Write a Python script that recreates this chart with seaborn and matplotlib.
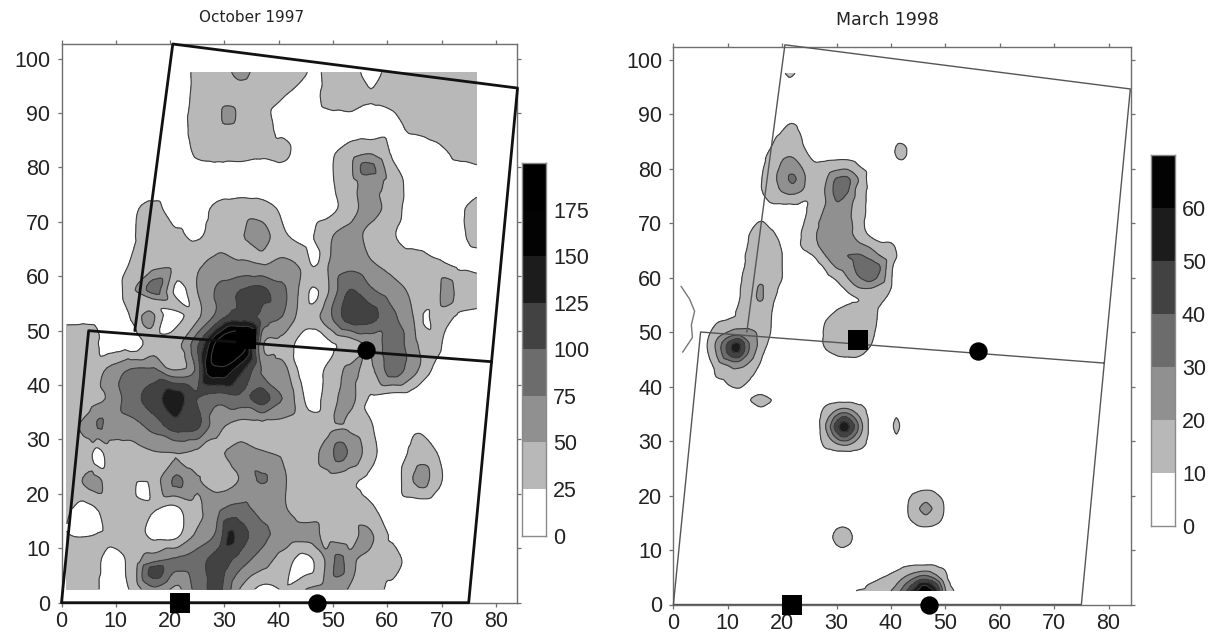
import numpy as np
import matplotlib
matplotlib.use("Agg")
import matplotlib.pyplot as plt
import matplotlib.tri as mtri
from matplotlib.colors import ListedColormap
import seaborn as sns

# ---------- data ----------
left_title = "October 1997"
right_title = "March 1998"
left_levels = [0, 25, 50, 75, 100, 125, 150, 175, 200]
right_levels = [0, 10, 20, 30, 40, 50, 60, 70]
grays = ["#ffffff", "#b8b8b8", "#909090", "#6c6c6c", "#424242", "#1c1c1c", "#030303", "#000000"]

grid_x = [1, 5, 9, 13, 17, 21, 25, 29, 33, 37, 41, 45, 49, 53, 57, 61, 65, 69, 73, 76.5]
grid_y = [97.5, 92.5, 87.5, 82.5, 77.5, 72.5, 67.5, 62.5, 57.5, 52.5, 47.5, 42.5, 37.5, 32.5, 27.5, 22.5, 17.5, 12.5, 7.5, 2.5]
oct_z = [
    [0, 0, 0, 0, 0, 12, 30, 40, 55, 40, 38, 27, 35, 38, 15, 38, 40, 42, 42, 42],
    [0, 0, 0, 0, 0, 10, 32, 42, 40, 30, 24, 10, 32, 38, 27, 30, 40, 42, 42, 42],
    [0, 0, 0, 0, 0, 10, 35, 42, 38, 30, 20, 8, 10, 12, 10, 20, 30, 38, 42, 42],
    [0, 0, 0, 0, 0, 8, 28, 32, 32, 28, 30, 10, 20, 38, 50, 22, 10, 15, 30, 35],
    [0, 0, 0, 0, 0, 5, 8, 8, 8, 8, 8, 5, 20, 40, 60, 38, 15, 10, 10, 12],
    [0, 0, 0, 20, 32, 10, 15, 32, 38, 35, 20, 8, 15, 38, 60, 36, 12, 8, 20, 35],
    [0, 0, 0, 22, 38, 30, 22, 38, 48, 60, 28, 18, 45, 58, 42, 27, 15, 12, 20, 32],
    [0, 0, 0, 28, 38, 42, 45, 58, 52, 48, 55, 38, 48, 65, 52, 40, 36, 28, 20, 18],
    [0, 0, 0, 45, 85, 35, 50, 80, 100, 105, 78, 35, 47, 100, 78, 60, 45, 40, 40, 38],
    [0, 0, 0, 28, 40, 35, 45, 88, 112, 90, 72, 35, 65, 112, 108, 80, 48, 35, 22, 18],
    [34, 36, 12, 12, 35, 40, 95, 190, 195, 55, 40, 12, 18, 35, 55, 90, 55, 30, 12, 8],
    [40, 35, 58, 80, 82, 55, 85, 165, 130, 72, 58, 12, 30, 55, 45, 85, 55, 18, 8, 5],
    [30, 38, 55, 92, 112, 135, 100, 85, 92, 110, 72, 26, 35, 58, 22, 12, 10, 5, 3, 3],
    [45, 58, 62, 65, 85, 112, 105, 55, 42, 42, 42, 35, 40, 45, 27, 10, 22, 12, 2, 2],
    [36, 38, 38, 40, 48, 50, 45, 48, 60, 52, 46, 38, 62, 72, 35, 8, 32, 26, 5, 2],
    [36, 55, 40, 36, 38, 62, 52, 38, 52, 78, 52, 38, 40, 30, 18, 10, 52, 35, 5, 2],
    [30, 20, 38, 38, 28, 22, 45, 70, 80, 65, 52, 36, 36, 34, 28, 12, 10, 8, 2, 2],
    [26, 24, 30, 36, 18, 18, 55, 85, 112, 82, 65, 38, 42, 36, 50, 20, 5, 2, 2, 2],
    [36, 36, 18, 34, 75, 80, 90, 110, 85, 60, 36, 28, 55, 58, 40, 36, 10, 2, 2, 2],
    [36, 36, 15, 30, 70, 45, 85, 105, 48, 18, 26, 50, 58, 48, 36, 18, 2, 2, 2, 2],
]
# small features between the grid nodes
oct_spot_x = [21.5, 20, 46.4, 46.3, 67, 71.2, 56.2, 46.5, 30.7, 20.8, 46, 7, 50.8, 6.2, 51.3, 66.3, 14.7, 6, 21.2, 36.5, 4, 18.7, 31, 46, 56.1, 45.2, 17, 51.3, 11, 1, 5, 35, 27, 31, 35.5, 20.9, 46.5, 20.5, 16, 16.5]
oct_spot_y = [57, 53, 62.6, 57, 52, 57, 79.8, 97.5, 89, 44, 38, 32.7, 33.5, 27.2, 27.6, 23, 21.8, 22.2, 22.2, 21.3, 15.5, 15, 12.3, 12.5, 12, 7.3, 6.2, 7.1, 48, 50.5, 50.5, 49, 43, 50, 55, 37.6, 60, 55, 52.6, 55.2]
oct_spot_v = [15, 15, 18, 18, 22, 65, 85, 15, 60, 30, 15, 78, 53, 15, 85, 62, 15, 58, 80, 72, 8, 8, 130, 58, 58, 15, 110, 85, 10, 33, 35, 170, 160, 170, 118, 140, 40, 38, 60, 38]

mar_x = [6, 8, 10, 12, 14, 16, 18, 20, 22, 24, 26, 28, 30, 32, 34, 36, 38, 40, 42]
mar_y = [90, 88, 86, 84, 82, 80, 78, 76, 74, 72, 70, 68, 66, 64, 62, 60, 58, 56, 54, 52, 50, 48, 46, 44, 42, 40]
mar_z = [
    [0, 0, 0, 0, 0, 0, 0, 0, 0, 0, 0, 0, 0, 0, 0, 0, 0, 0, 0],
    [0, 0, 0, 0, 0, 0, 0, 7, 11, 5, 0, 0, 0, 0, 0, 0, 0, 0, 0],
    [0, 0, 0, 0, 0, 0, 7, 12, 14, 8, 0, 0, 0, 0, 0, 0, 0, 0, 0],
    [0, 0, 0, 0, 0, 3, 10, 14, 16, 10, 4, 0, 0, 0, 0, 0, 0, 6, 13],
    [0, 0, 0, 0, 0, 6, 14, 19, 20, 14, 8, 8, 8, 8, 6, 2, 0, 6, 12],
    [0, 0, 0, 0, 0, 8, 15, 22, 26, 19, 13, 14, 18, 19, 12, 7, 0, 0, 0],
    [0, 0, 0, 0, 0, 9, 16, 24, 32, 21, 13, 19, 31, 32, 20, 7, 0, 0, 0],
    [0, 0, 0, 0, 0, 9, 14, 21, 24, 19, 12, 21, 33, 31, 16, 8, 0, 0, 0],
    [0, 0, 0, 0, 0, 5, 11, 12, 12, 10, 13, 20, 30, 25, 15, 8, 0, 0, 0],
    [0, 0, 0, 0, 0, 3, 3, 5, 7, 9, 14, 22, 27, 23, 14, 8, 0, 0, 0],
    [0, 0, 0, 0, 6, 11, 7, 2, 4, 10, 17, 25, 26, 24, 14, 7, 0, 0, 0],
    [0, 0, 0, 3, 10, 13, 12, 6, 5, 12, 19, 24, 26, 23, 16, 9, 5, 5, 2],
    [0, 0, 0, 5, 11, 14, 14, 9, 4, 13, 18, 24, 26, 26, 22, 18, 12, 11, 6],
    [0, 0, 0, 5, 13, 15, 15, 10, 3, 6, 11, 20, 28, 30, 31, 27, 20, 14, 7],
    [0, 0, 0, 6, 13, 16, 15, 10, 0, 2, 5, 12, 21, 25, 33, 36, 30, 12, 4],
    [0, 0, 0, 8, 14, 18, 14, 10, 0, 0, 2, 7, 12, 20, 29, 35, 27, 11, 3],
    [0, 0, 0, 9, 14, 21, 13, 8, 0, 0, 0, 3, 6, 12, 19, 20, 16, 10, 3],
    [0, 0, 0, 9.5, 14, 21, 12, 6, 0, 0, 0, 0, 3, 8, 10, 13, 12, 7, 2],
    [0, 3, 6, 11, 14, 14, 10.5, 4, 0, 0, 0, 4, 10, 13, 14, 13, 9, 3, 0],
    [3, 9, 11, 13, 15, 15, 10, 3, 0, 0, 3, 10, 14, 16, 16, 14, 8, 2, 0],
    [7, 15, 20, 24, 22, 18, 9.5, 2, 0, 0, 3, 12, 16, 18, 18, 14, 6, 0, 0],
    [9, 22, 40, 50, 29, 17, 7, 0, 0, 0, 0, 13, 17, 18, 18, 12, 4, 0, 0],
    [8, 21, 40, 47, 27, 13, 4, 0, 0, 0, 0, 7, 11, 12, 12, 7, 0, 0, 0],
    [4, 15, 21, 24, 18, 9, 0, 0, 0, 0, 0, 0, 5, 5, 4, 0, 0, 0, 0],
    [0, 11, 14, 14, 12, 5, 0, 0, 0, 0, 0, 0, 0, 0, 0, 0, 0, 0, 0],
    [0, 3, 9, 10.5, 8, 0, 0, 0, 0, 0, 0, 0, 0, 0, 0, 0, 0, 0, 0],
]
mar_bottom_x = [32, 34, 36, 38, 40, 42, 44, 46, 48, 50, 52, 54]
mar_bottom_y = [2.5, 3.5, 4.5, 5.5, 6.5, 7.5, 8.5]
mar_bottom_z = [
    [5, 11, 13, 15, 20, 32, 52, 68, 58, 21, 8, 0],
    [0, 5, 11, 13, 16, 27, 42, 60, 48, 18, 5, 0],
    [0, 0, 6, 11, 13, 21, 32, 42, 34, 14, 2, 0],
    [0, 0, 0, 6, 11, 16, 22, 28, 21, 11.5, 1, 0],
    [0, 0, 0, 0, 5, 11, 14, 16, 14, 9, 0, 0],
    [0, 0, 0, 0, 0, 7, 8, 8, 8, 4, 0, 0],
    [0, 0, 0, 0, 0, 0, 0, 0, 0, 0, 0, 0],
]
bull_x = [26.6, 28.2, 29.8, 31.4, 33.0, 34.6, 36.2]
bull_y = [37.4, 35.8, 34.2, 32.6, 31.0, 29.4, 27.8]
bull_z = [
    [2, 6, 8, 8, 8, 6, 2],
    [6, 14, 18, 22, 18, 14, 6],
    [8, 18, 33, 43, 33, 18, 8],
    [8, 22, 43, 56, 43, 22, 8],
    [8, 18, 33, 43, 33, 18, 8],
    [6, 14, 18, 22, 18, 14, 6],
    [2, 6, 8, 8, 8, 6, 2],
]
spot_g_x = [43.2, 44.8, 46.4, 48.0, 49.6]
spot_g_y = [20.8, 19.2, 17.6, 16.0, 14.4]
spot_g_z = [
    [6, 9.5, 10.5, 9.5, 6],
    [9.5, 16, 18, 16, 9.5],
    [10.5, 18, 24, 18, 10.5],
    [9.5, 16, 18, 16, 9.5],
    [6, 9.5, 10.5, 9.5, 6],
]
mar_small_x = [21.4, 20, 23, 21.4,
               44,
               31.1, 28.3, 33.9, 31.1, 31.1, 29.1, 33.1, 29.1, 33.1,
               16.1, 12.8, 19.4, 16.1, 16.1,
               41, 39.8, 42.2, 41, 41]
mar_small_y = [97.5, 97.5, 97.5, 96.2,
               83.2,
               12.4, 12.4, 12.4, 15.2, 9.6, 14.4, 14.4, 10.4, 10.4,
               37.5, 37.5, 37.5, 38.9, 35.5,
               32.8, 32.8, 32.8, 35.8, 29.8]
mar_small_v = [14, 7, 7, 8,
               5,
               14, 7, 7, 7, 7, 7, 7, 7, 7,
               14, 7, 7, 8, 7,
               13, 6, 6, 6, 6]

outline_x = [13.5, 20.5, 84, 75, 0, 5, 79.2]
outline_y = [50, 102.7, 94.6, 0, 0, 50, 44.3]
square_x = [21.8, 34]
square_y = [0, 48.5]
circle_x = [47, 56]
circle_y = [0, 46.5]
squiggle_x = [1.4, 3.0, 3.9, 3.3, 3.5, 1.7]
squiggle_y = [58.4, 56, 53.8, 51.3, 49, 46.3]

x_ticks = [0, 10, 20, 30, 40, 50, 60, 70, 80]
y_ticks = [0, 10, 20, 30, 40, 50, 60, 70, 80, 90, 100]

# ---------- helpers ----------
sns.set_theme(style="ticks")
plt.rcParams["font.family"] = ["Liberation Sans", "DejaVu Sans"]
W, H = 1210, 636
fig = plt.figure(figsize=(W / 100, H / 100), dpi=100, facecolor="white")
EDGE = "#6e6e6e"
INK = "#222222"
TICK_SIZE = 15.5


def axes_px(x0, x1, top, bottom):
    return fig.add_axes([x0 / W, 1 - bottom / H, (x1 - x0) / W, (bottom - top) / H])


def flatten(xs, ys, zs):
    gx, gy = np.meshgrid(xs, ys)
    return gx.ravel(), gy.ravel(), np.asarray(zs, float).ravel()


def draw_field(ax, px, py, pz, levels):
    tri = mtri.Triangulation(px, py)
    smooth = mtri.CubicTriInterpolator(tri, pz, kind="geom")
    fine, zf = mtri.UniformTriRefiner(tri).refine_field(pz, triinterpolator=smooth, subdiv=3)
    zf = np.clip(zf, 0, levels[-1] - 0.01)
    ax.tricontourf(fine, zf, levels=levels, colors=grays[:len(levels) - 1])
    ax.tricontour(fine, zf, levels=levels[1:-1], colors="#3c3c3c", linewidths=0.8)


def style_axes(ax, xmax, ymax):
    ax.set_xlim(0, xmax)
    ax.set_ylim(0, ymax)
    ax.set_xticks(x_ticks)
    ax.set_yticks(y_ticks)
    ax.set_xlabel("")
    ax.set_ylabel("")
    ax.tick_params(axis="x", labelsize=TICK_SIZE, labelcolor=INK, color=EDGE, length=3, width=0.9,
                   pad=3, top=True, direction="out")
    ax.tick_params(axis="y", labelsize=TICK_SIZE, labelcolor=INK, color=EDGE, length=3, width=0.9,
                   pad=5, right=True, direction="out")
    for s in ax.spines.values():
        s.set_color(EDGE)
        s.set_linewidth(1.0)


def draw_marks(ax, line_color, lw):
    sns.lineplot(x=outline_x, y=outline_y, sort=False, estimator=None, color=line_color, linewidth=lw,
                 ax=ax, legend=False, clip_on=False, zorder=5)
    sns.scatterplot(x=square_x, y=square_y, marker="s", s=190, color="black", linewidth=0, ax=ax,
                    legend=False, clip_on=False, zorder=6)
    sns.scatterplot(x=circle_x, y=circle_y, marker="o", s=175, color="black", linewidth=0, ax=ax,
                    legend=False, clip_on=False, zorder=6)


def draw_bar(x0, x1, top, bottom, levels, labels):
    cax = axes_px(x0, x1, top, bottom)
    n = len(levels) - 1
    cells = np.arange(n)[::-1].reshape(-1, 1)
    sns.heatmap(cells, cmap=ListedColormap(grays[:n]), vmin=-0.5, vmax=n - 0.5, cbar=False, ax=cax,
                xticklabels=False, yticklabels=False)
    cax.set_xticks([])
    cax.yaxis.tick_right()
    cax.set_yticks([n - i for i in range(len(labels))])
    cax.set_yticklabels(labels, rotation=0, fontsize=TICK_SIZE, color=INK)
    cax.tick_params(axis="y", length=0, pad=5, right=False, left=False)
    for s in cax.spines.values():
        s.set_visible(True)
        s.set_color("#8a8a8a")
        s.set_linewidth(1.0)


# ---------- left panel ----------
ax1 = axes_px(61.5, 517, 44, 602.7)
gx, gy, gz = flatten(grid_x, grid_y, oct_z)
sx, sy, sv = np.array(oct_spot_x), np.array(oct_spot_y), np.array(oct_spot_v, float)
keep = np.array([np.min(np.hypot(sx - a, sy - b)) > 1.2 for a, b in zip(gx, gy)])
draw_field(ax1, np.r_[gx[keep], sx], np.r_[gy[keep], sy], np.r_[gz[keep], sv], left_levels)
draw_marks(ax1, "#111111", 2.0)
style_axes(ax1, 83.9, 102.7)
draw_bar(522, 546, 163, 535.5, left_levels, [str(v) for v in left_levels[:-1]])

# ---------- right panel ----------
ax2 = axes_px(673.4, 1131.4, 47, 604.5)
parts = [flatten(mar_x, mar_y, mar_z), flatten(mar_bottom_x, mar_bottom_y, mar_bottom_z),
         flatten(bull_x, bull_y, bull_z), flatten(spot_g_x, spot_g_y, spot_g_z),
         (np.array(mar_small_x), np.array(mar_small_y), np.array(mar_small_v, float)),
         (np.array([11.6]), np.array([47.3]), np.array([58.0]))]
px = np.concatenate([p[0] for p in parts])
py = np.concatenate([p[1] for p in parts])
pz = np.concatenate([p[2] for p in parts])
bx, by, _ = flatten(grid_x, grid_y, oct_z)
keep = np.array([np.min(np.hypot(px - a, py - b)) > 2.0 for a, b in zip(bx, by)])
draw_field(ax2, np.r_[px, bx[keep]], np.r_[py, by[keep]], np.r_[pz, np.zeros(keep.sum())], right_levels)
draw_marks(ax2, "#555555", 1.0)
sns.lineplot(x=squiggle_x, y=squiggle_y, sort=False, estimator=None, color="#777777", linewidth=1.0,
             ax=ax2, legend=False)
style_axes(ax2, 84.2, 102.3)
draw_bar(1151, 1175, 155, 526, right_levels, [str(v) for v in right_levels[:-1]])

fig.text(252 / W, 1 - 17 / H, left_title, ha="center", va="center", fontsize=11, color=INK,
         family="DejaVu Sans")
fig.text(888 / W, 1 - 20 / H, right_title, ha="center", va="center", fontsize=12.5, color=INK,
         family="DejaVu Sans")

fig.savefig("out.png", dpi=100, facecolor="white")
